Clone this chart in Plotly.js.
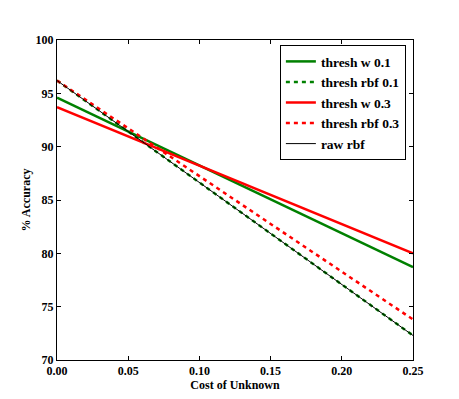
<!DOCTYPE html>
<html>
<head>
<meta charset="utf-8">
<script src="https://cdn.plot.ly/plotly-3.0.1.min.js"></script>
<style>html,body{margin:0;padding:0;background:#fff;}#chart{width:459px;height:399px;}</style>
</head>
<body>
<div id="chart"></div>
<script>
const costs = [0.0, 0.25];
const threshW01 = [94.6, 78.7];
const threshRbf01 = [96.2, 72.3];
const threshW03 = [93.7, 80.0];
const threshRbf03 = [96.2, 73.8];
const rawRbf = [96.2, 72.3];
const xTicks = [0, 0.05, 0.10, 0.15, 0.20, 0.25];
const xTickLabels = ['0.00', '0.05', '0.10', '0.15', '0.20', '0.25'];
const yTicks = [70, 75, 80, 85, 90, 95, 100];

const fam = '"Liberation Serif", "Times New Roman", serif';
const font = {family: fam, size: 12, color: '#000'};

const traces = [
  {x: costs, y: threshW01, name: '<b>thresh w 0.1</b>', mode: 'lines', line: {color: '#008000', width: 2.5}},
  {x: costs, y: threshRbf01, name: '<b>thresh rbf 0.1</b>', mode: 'lines', line: {color: '#008000', width: 2.5, dash: '4px,4px'}},
  {x: costs, y: threshW03, name: '<b>thresh w 0.3</b>', mode: 'lines', line: {color: '#ff0000', width: 2.5}},
  {x: costs, y: threshRbf03, name: '<b>thresh rbf 0.3</b>', mode: 'lines', line: {color: '#ff0000', width: 2.5, dash: '4px,4px'}},
  {x: costs, y: rawRbf, name: '<b>raw rbf</b>', mode: 'lines', line: {color: '#000000', width: 1}}
];

const layout = {
  width: 459, height: 399,
  margin: {l: 57, r: 46, t: 40, b: 39},
  paper_bgcolor: '#fff', plot_bgcolor: '#fff',
  font: font,
  showlegend: true,
  legend: {
    x: 0.98, y: 0.984, xanchor: 'right', yanchor: 'top',
    bordercolor: '#000', borderwidth: 1, bgcolor: '#fff',
    font: {family: fam, size: 13.5, color: '#000'},
    tracegroupgap: 0
  },
  xaxis: {
    range: [0, 0.25], tickvals: xTicks, ticktext: xTickLabels.map(t => '<b>' + t + '</b>'),
    ticks: 'inside', ticklen: 4, tickcolor: '#000', mirror: 'ticks',
    tickfont: {family: fam, size: 12, color: '#000'},
    showline: true, linecolor: '#000', linewidth: 1, showgrid: false, zeroline: false,
    title: {text: '<b>Cost of Unknown</b>', font: {family: fam, size: 12}, standoff: 0}
  },
  yaxis: {
    range: [70, 100], tickvals: yTicks, ticktext: yTicks.map(t => '<b>' + t + '</b>'),
    ticks: 'inside', ticklen: 4, tickcolor: '#000', mirror: 'ticks',
    tickfont: {family: fam, size: 12, color: '#000'},
    showline: true, linecolor: '#000', linewidth: 1, showgrid: false, zeroline: false,
    title: {text: '<b>% Accuracy</b>', font: {family: fam, size: 12}, standoff: 2}
  }
};

Plotly.newPlot('chart', traces, layout, {displayModeBar: false, staticPlot: true});
</script>
</body>
</html>
